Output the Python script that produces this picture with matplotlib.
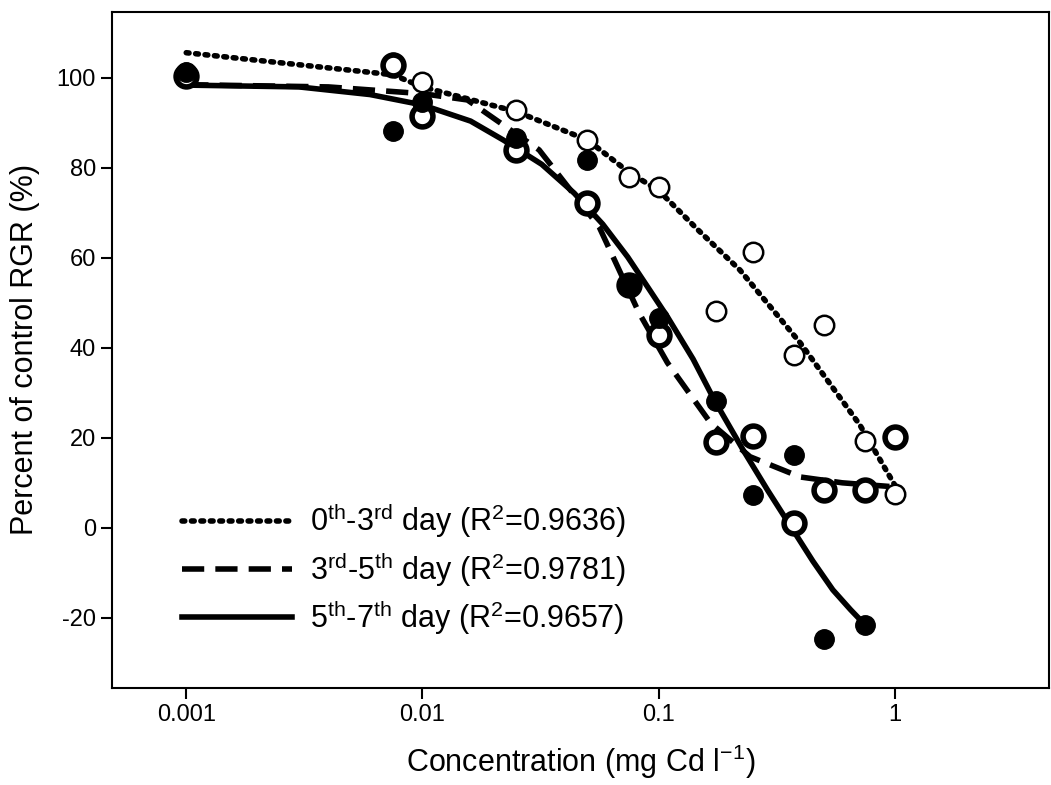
import matplotlib
matplotlib.use('Agg')
import matplotlib.pyplot as plt
import numpy as np

plt.rcParams['font.family'] = ['Liberation Sans', 'DejaVu Sans']
plt.rcParams['mathtext.default'] = 'regular'
plt.rcParams['axes.unicode_minus'] = False

# concentrations (mg Cd/l)
conc = [0.001, 0.0075, 0.01, 0.025, 0.05, 0.075, 0.1, 0.175, 0.25, 0.375, 0.5, 0.75, 1.0]
# measured points
d03 = [101.0, 103.3, 99.0, 92.9, 86.2, 78.0, 75.8, 48.1, 61.3, 38.4, 45.1, 19.2, 7.5]
d35 = [100.5, 102.9, 91.6, 84.0, 72.2, 54.0, 42.9, 19.0, 20.5, 1.1, 8.4, 8.4, 20.1]
conc57 = [0.001, 0.0075, 0.01, 0.025, 0.05, 0.075, 0.1, 0.175, 0.25, 0.375, 0.5, 0.75]
d57 = [101.4, 88.3, 94.7, 86.6, 81.8, 53.6, 46.6, 28.2, 7.3, 16.2, -24.7, -21.6]

# fitted curves
fx03 = [0.001, 0.0075, 0.01, 0.025, 0.05, 0.075, 0.1, 0.147, 0.221, 0.398, 0.711, 1.0]
fy03 = [105.6, 100.7, 98.0, 92.5, 86.2, 79.0, 75.0, 66.2, 57.3, 41.1, 22.9, 9.5]
fx35 = [0.001, 0.004, 0.01, 0.0155, 0.0312, 0.056, 0.0826, 0.109, 0.166, 0.244, 0.398, 0.6, 1.0]
fy35 = [98.5, 98.0, 96.5, 95.1, 84.0, 66.9, 47.8, 36.7, 23.3, 15.8, 11.3, 10.0, 9.1]
fx57 = [0.001, 0.003, 0.006, 0.01, 0.016, 0.022, 0.032, 0.0439, 0.058, 0.074, 0.09, 0.109,
        0.14, 0.173, 0.228, 0.29, 0.37, 0.45, 0.547, 0.65, 0.75]
fy57 = [98.4, 98.0, 96.3, 94.0, 90.4, 86.2, 80.8, 74.4, 67.5, 60.2, 53.5, 46.9,
        37.5, 28.2, 17.3, 8.3, -0.4, -7.4, -13.8, -18.2, -21.6]

fig = plt.figure(figsize=(10.51, 7.85), dpi=100)
ax = fig.add_axes([0.1066, 0.1236, 0.8915, 0.8614])

ax.plot(fx03, fy03, color='black', lw=4, ls=(0, (0.5, 1.2)), dash_capstyle='round',
        label='0$^{th}$-3$^{rd}$ day (R$^2$=0.9636)')
ax.plot(fx35, fy35, color='black', lw=4, ls=(0, (4, 2)),
        label='3$^{rd}$-5$^{th}$ day (R$^2$=0.9781)')
ax.plot(fx57, fy57, color='black', lw=4, ls='-',
        label='5$^{th}$-7$^{th}$ day (R$^2$=0.9657)')

ax.plot(conc, d03, 'o', ms=14, mfc='white', mec='black', mew=1.8, ls='none')
ax.plot(conc, d35, 'o', ms=15, mfc='white', mec='black', mew=4, ls='none')
ax.plot(conc57, d57, 'o', ms=14, mfc='black', mec='black', ls='none')

ax.set_xscale('log')
ax.set_xlim(0.000485, 4.5)
ax.set_ylim(-35.6, 114.7)
ax.set_xticks([0.001, 0.01, 0.1, 1])
ax.set_xticklabels(['0.001', '0.01', '0.1', '1'])
ax.minorticks_off()
ax.set_yticks([-20, 0, 20, 40, 60, 80, 100])
ax.tick_params(labelsize=17, length=8, width=1.5, direction='out')
for s in ax.spines.values():
    s.set_linewidth(1.5)

ax.set_xlabel('Concentration (mg Cd l$^{-1}$)', fontsize=22, labelpad=12)
ax.set_ylabel('Percent of control RGR (%)', fontsize=22, labelpad=12)

ax.legend(loc='lower left', bbox_to_anchor=(0.045, 0.035), frameon=False, fontsize=22,
          handlelength=3.6, handletextpad=0.6, labelspacing=0.3)

fig.savefig('out.png', dpi=100)
